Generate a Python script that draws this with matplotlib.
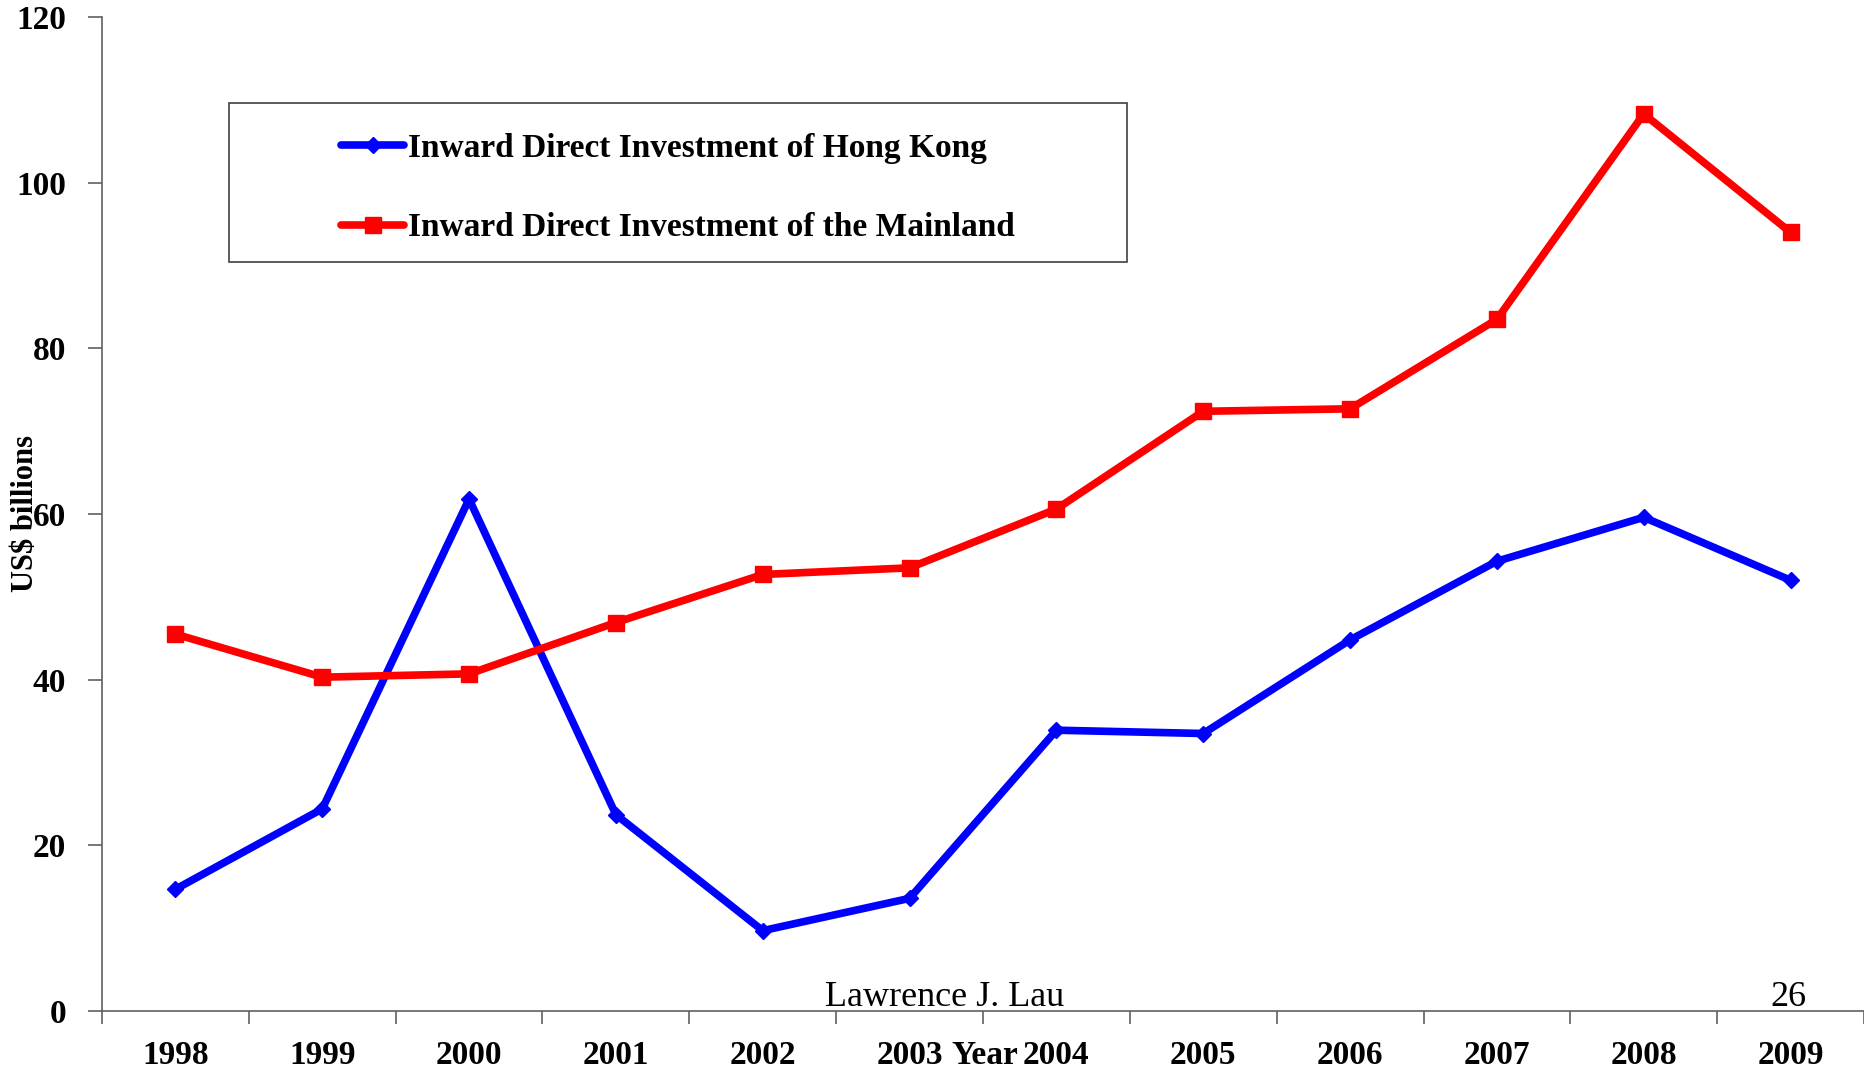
import numpy as np
import matplotlib
matplotlib.use("Agg")
import matplotlib.pyplot as plt
from matplotlib.patches import Rectangle
from matplotlib.ticker import FixedLocator, NullFormatter

years = ["1998", "1999", "2000", "2001", "2002", "2003", "2004",
         "2005", "2006", "2007", "2008", "2009"]
hong_kong = [14.7, 24.4, 61.8, 23.7, 9.7, 13.6, 33.9, 33.5, 44.8, 54.3, 59.6, 52.0]
mainland = [45.5, 40.3, 40.7, 46.9, 52.7, 53.5, 60.6, 72.4, 72.7, 83.5, 108.3, 94.0]
yticks = [0, 20, 40, 60, 80, 100, 120]

plt.rcParams['font.family'] = ['Liberation Serif', 'DejaVu Serif']

W, H = 1864, 1069
fig = plt.figure(figsize=(W / 100, H / 100), dpi=100)
ax = fig.add_axes([102/W, 1-1011/H, 1-102/W, (1011-17)/H])

x = np.arange(len(years))
ax.plot(x, hong_kong, color='#0000ff', lw=5.5, marker='D', ms=8,
        label='Inward Direct Investment of Hong Kong', solid_capstyle='round')
ax.plot(x, mainland, color='#ff0000', lw=5.5, marker='s', ms=12,
        label='Inward Direct Investment of the Mainland', solid_capstyle='round')

ax.set_xlim(-0.5, len(years) - 0.5)
ax.set_ylim(0, 120)
ax.set_yticks(yticks)
ax.set_yticklabels([str(v) for v in yticks], fontsize=24, fontweight='bold')

# category boundaries as major ticks, labels on minor ticks
ax.xaxis.set_major_locator(FixedLocator(np.arange(-0.5, len(years), 1.0)))
ax.xaxis.set_major_formatter(NullFormatter())
ax.xaxis.set_minor_locator(FixedLocator(x))
ax.set_xticklabels(years, minor=True, fontsize=24, fontweight='bold')
ax.tick_params(axis='x', which='major', length=9, width=1.2, color='#606060', direction='out')
ax.tick_params(axis='x', which='minor', length=0, pad=21)
ax.tick_params(axis='y', length=10, width=1.2, color='#606060', direction='out', pad=16)

for s in ['top', 'right']:
    ax.spines[s].set_visible(False)
for s in ['left', 'bottom']:
    ax.spines[s].set_color('#606060')
    ax.spines[s].set_linewidth(1.2)

# legend box
fig.patches.append(Rectangle((229/W, 1-262/H), (1127-229)/W, (262-103)/H,
                             transform=fig.transFigure, fill=False,
                             edgecolor='#404040', lw=1.2))
leg = fig.legend(loc='upper left', bbox_to_anchor=(341/W, 1-133/H),
                 prop={'size': 24, 'weight': 'bold'}, frameon=False,
                 handlelength=1.9, handletextpad=0.1, labelspacing=1.45,
                 borderpad=0, borderaxespad=0)

fig.text(26/W, 1-514/H, 'US$ billions', rotation=90, fontsize=22,
         fontweight='bold', ha='center', va='center')
fig.text(985/W, 1-1055/H, 'Year', fontsize=24, fontweight='bold',
         ha='center', va='center')
fig.text(945/W, 1-997/H, 'Lawrence J. Lau', fontsize=26,
         ha='center', va='center')
fig.text(1788/W, 1-997/H, '26', fontsize=26, ha='center', va='center')

fig.savefig('out.png', dpi=100)
